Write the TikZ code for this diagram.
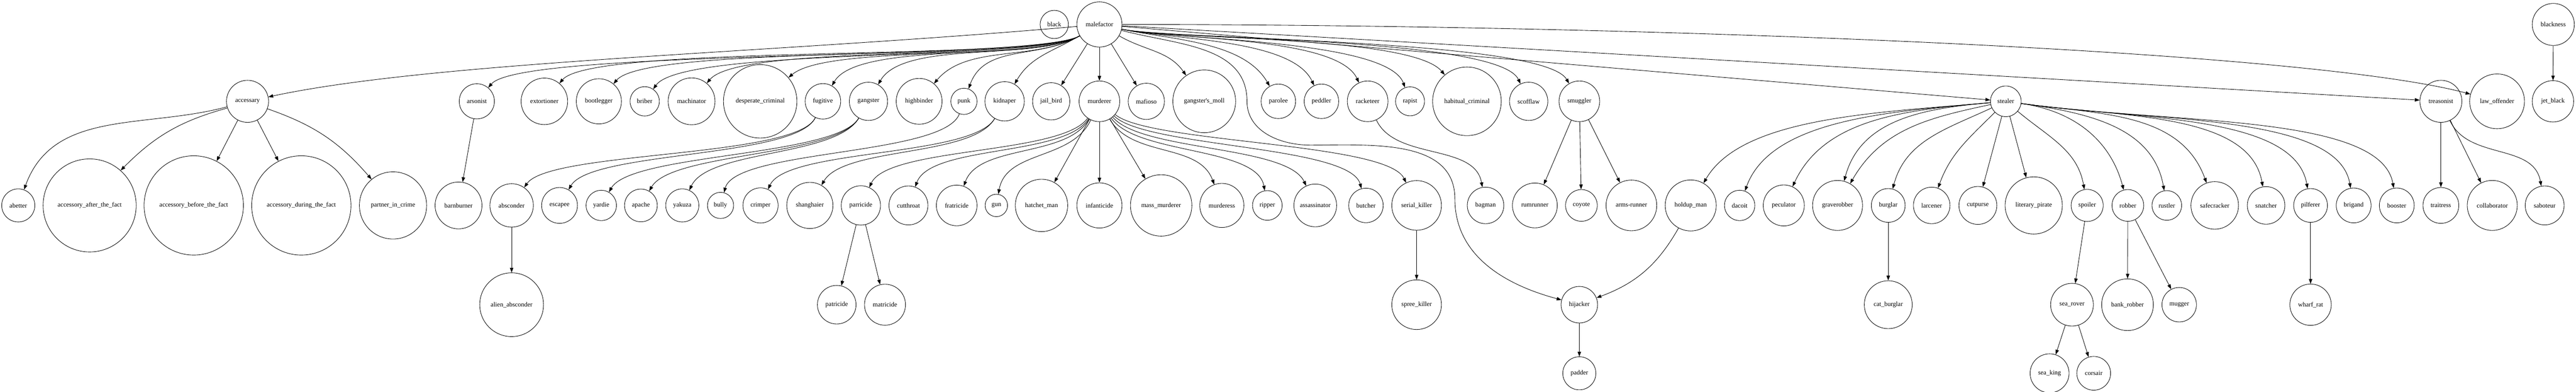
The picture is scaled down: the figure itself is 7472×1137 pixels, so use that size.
\documentclass[tikz,border=0pt]{standalone}
\usepackage{fontspec}
\setmainfont{Liberation Serif}
\usetikzlibrary{arrows.meta}
\begin{document}
\begin{tikzpicture}[x=0.1pt, y=0.1pt]

	\tikzstyle{termino}=[circle, draw, line width=0.13pt, inner sep=0pt, font=\fontsize{1.867}{2.2}\selectfont]
	\tikzstyle{flecha}=[-{Triangle[length=1.4pt, width=1pt]}, line width=0.13pt]
	\tikzstyle{izq}=[out=210, out max distance=15pt, in max distance=15pt]
	\tikzstyle{der}=[out=-12, out max distance=15pt, in max distance=15pt]
	\tikzstyle{tendido}=[out max distance=13pt, in max distance=13pt]
	\tikzstyle{abanico_i}=[out=185, out max distance=50pt, in max distance=22pt]
	\tikzstyle{abanico_d}=[out=-8, out max distance=50pt, in max distance=22pt]

	\useasboundingbox (0, 0) rectangle (7472, 1137);

	\node[termino, minimum size=8.2pt] (black) at (3058, 1066) {black}; % NIVEL 0
	\node[termino, minimum size=13.1pt] (malefactor) at (3189, 1066) {malefactor}; % NIVEL 0
	\node[termino, minimum size=12.2pt] (blackness) at (7406, 1066) {blackness}; % NIVEL 0

	\node[termino, minimum size=12.2pt] (accessary) at (718, 843) {accessary}; % NIVEL 1
	\node[termino, minimum size=10.2pt] (arsonist) at (1383, 843) {arsonist}; % NIVEL 1
	\node[termino, minimum size=13.5pt] (extortioner) at (1579, 843) {extortioner}; % NIVEL 1
	\node[termino, minimum size=13.1pt] (bootlegger) at (1737, 843) {bootlegger}; % NIVEL 1
	\node[termino, minimum size=8.5pt] (briber) at (1870, 843) {briber}; % NIVEL 1
	\node[termino, minimum size=13.6pt] (machinator) at (2006, 843) {machinator}; % NIVEL 1
	\node[termino, minimum size=21.3pt] (desperate) at (2205, 843) {desperate\_criminal}; % NIVEL 1
	\node[termino, minimum size=10.3pt] (fugitive) at (2387, 843) {fugitive}; % NIVEL 1
	\node[termino, minimum size=11.1pt] (gangster) at (2519, 843) {gangster}; % NIVEL 1
	\node[termino, minimum size=13.3pt] (highbinder) at (2666, 843) {highbinder}; % NIVEL 1
	\node[termino, minimum size=7.6pt] (punk) at (2796, 843) {punk}; % NIVEL 1
	\node[termino, minimum size=11.4pt] (kidnaper) at (2914, 843) {kidnaper}; % NIVEL 1
	\node[termino, minimum size=10.8pt] (jail_bird) at (3049, 843) {jail\_bird}; % NIVEL 1
	\node[termino, minimum size=11.8pt] (murderer) at (3189, 843) {murderer}; % NIVEL 1
	\node[termino, minimum size=10.5pt] (mafioso) at (3325, 843) {mafioso}; % NIVEL 1
	\node[termino, minimum size=18.2pt] (moll) at (3493, 843) {gangster\textquotesingle s\_moll}; % NIVEL 1
	\node[termino, minimum size=10pt] (parolee) at (3708, 843) {parolee}; % NIVEL 1
	\node[termino, minimum size=10pt] (peddler) at (3833, 843) {peddler}; % NIVEL 1
	\node[termino, minimum size=11.8pt] (racketeer) at (3967, 843) {racketeer}; % NIVEL 1
	\node[termino, minimum size=8.4pt] (rapist) at (4090, 843) {rapist}; % NIVEL 1
	\node[termino, minimum size=19.9pt] (habitual) at (4255, 843) {habitual\_criminal}; % NIVEL 1
	\node[termino, minimum size=11.1pt] (scofflaw) at (4434, 843) {scofflaw}; % NIVEL 1
	\node[termino, minimum size=11.8pt] (smuggler) at (4581, 843) {smuggler}; % NIVEL 1
	\node[termino, minimum size=8.9pt] (stealer) at (5818, 843) {stealer}; % NIVEL 1
	\node[termino, minimum size=12.2pt] (treasonist) at (7080, 843) {treasonist}; % NIVEL 1
	\node[termino, minimum size=15.9pt] (law_offender) at (7243, 843) {law\_offender}; % NIVEL 1
	\node[termino, minimum size=12pt] (jet_black) at (7405, 843) {jet\_black}; % NIVEL 1

	\node[termino, minimum size=9.6pt] (abetter) at (53, 541) {abetter}; % NIVEL 2
	\node[termino, minimum size=27pt] (after_fact) at (260, 541) {accessory\_after\_the\_fact}; % NIVEL 2
	\node[termino, minimum size=28.8pt] (before_fact) at (562, 541) {accessory\_before\_the\_fact}; % NIVEL 2
	\node[termino, minimum size=28.8pt] (during_fact) at (874, 541) {accessory\_during\_the\_fact}; % NIVEL 2
	\node[termino, minimum size=19.5pt] (partner) at (1140, 541) {partner\_in\_crime}; % NIVEL 2
	\node[termino, minimum size=13.6pt] (barnburner) at (1330, 541) {barnburner}; % NIVEL 2
	\node[termino, minimum size=12.6pt] (absconder) at (1484, 541) {absconder}; % NIVEL 2
	\node[termino, minimum size=10.4pt] (escapee) at (1623, 541) {escapee}; % NIVEL 2
	\node[termino, minimum size=8.8pt] (yardie) at (1744, 541) {yardie}; % NIVEL 2
	\node[termino, minimum size=9.5pt] (apache) at (1859, 541) {apache}; % NIVEL 2
	\node[termino, minimum size=9.6pt] (yakuza) at (1979, 541) {yakuza}; % NIVEL 2
	\node[termino, minimum size=7.6pt] (bully) at (2090, 541) {bully}; % NIVEL 2
	\node[termino, minimum size=10.2pt] (crimper) at (2206, 541) {crimper}; % NIVEL 2
	\node[termino, minimum size=13.4pt] (shanghaier) at (2349, 541) {shanghaier}; % NIVEL 2
	\node[termino, minimum size=11.4pt] (parricide) at (2497, 541) {parricide}; % NIVEL 2
	\node[termino, minimum size=11.3pt] (cutthroat) at (2635, 541) {cutthroat}; % NIVEL 2
	\node[termino, minimum size=11.8pt] (fratricide) at (2775, 541) {fratricide}; % NIVEL 2
	\node[termino, minimum size=6.5pt] (gun) at (2890, 541) {gun}; % NIVEL 2
	\node[termino, minimum size=15.2pt] (hatchet_man) at (3021, 541) {hatchet\_man}; % NIVEL 2
	\node[termino, minimum size=13.1pt] (infanticide) at (3189, 541) {infanticide}; % NIVEL 2
	\node[termino, minimum size=17.8pt] (mass_murderer) at (3368, 541) {mass\_murderer}; % NIVEL 2
	\node[termino, minimum size=12.8pt] (murderess) at (3544, 541) {murderess}; % NIVEL 2
	\node[termino, minimum size=8.6pt] (ripper) at (3676, 541) {ripper}; % NIVEL 2
	\node[termino, minimum size=12.4pt] (assassinator) at (3815, 541) {assassinator}; % NIVEL 2
	\node[termino, minimum size=10pt] (butcher) at (3962, 541) {butcher}; % NIVEL 2
	\node[termino, minimum size=14.4pt] (serial_killer) at (4109, 541) {serial\_killer}; % NIVEL 2
	\node[termino, minimum size=10.6pt] (bagman) at (4309, 541) {bagman}; % NIVEL 2
	\node[termino, minimum size=13pt] (rumrunner) at (4452, 541) {rumrunner}; % NIVEL 2
	\node[termino, minimum size=9.2pt] (coyote) at (4587, 541) {coyote}; % NIVEL 2
	\node[termino, minimum size=14.7pt] (arms_runner) at (4732, 541) {arms-runner}; % NIVEL 2
	\node[termino, minimum size=14.8pt] (holdup_man) at (4904, 541) {holdup\_man}; % NIVEL 2
	\node[termino, minimum size=8.8pt] (dacoit) at (5046, 541) {dacoit}; % NIVEL 2
	\node[termino, minimum size=11.9pt] (peculator) at (5174, 541) {peculator}; % NIVEL 2
	\node[termino, minimum size=14.5pt] (graverobber) at (5330, 541) {graverobber}; % NIVEL 2
	\node[termino, minimum size=9.8pt] (burglar) at (5477, 541) {burglar}; % NIVEL 2
	\node[termino, minimum size=10.6pt] (larcener) at (5603, 541) {larcener}; % NIVEL 2
	\node[termino, minimum size=11pt] (cutpurse) at (5737, 541) {cutpurse}; % NIVEL 2
	\node[termino, minimum size=16.6pt] (literary_pirate) at (5899, 541) {literary\_pirate}; % NIVEL 2
	\node[termino, minimum size=9.3pt] (spoiler) at (6054, 541) {spoiler}; % NIVEL 2
	\node[termino, minimum size=9.2pt] (robber) at (6172, 541) {robber}; % NIVEL 2
	\node[termino, minimum size=8.6pt] (rustler) at (6285, 541) {rustler}; % NIVEL 2
	\node[termino, minimum size=13.8pt] (safecracker) at (6424, 541) {safecracker}; % NIVEL 2
	\node[termino, minimum size=10.9pt] (snatcher) at (6573, 541) {snatcher}; % NIVEL 2
	\node[termino, minimum size=9.8pt] (pilferer) at (6702, 541) {pilferer}; % NIVEL 2
	\node[termino, minimum size=10.1pt] (brigand) at (6827, 541) {brigand}; % NIVEL 2
	\node[termino, minimum size=10.1pt] (booster) at (6952, 541) {booster}; % NIVEL 2
	\node[termino, minimum size=10.4pt] (traitress) at (7080, 541) {traitress}; % NIVEL 2
	\node[termino, minimum size=14.5pt] (collaborator) at (7229, 541) {collaborator}; % NIVEL 2
	\node[termino, minimum size=11.3pt] (saboteur) at (7381, 541) {saboteur}; % NIVEL 2

	\node[termino, minimum size=18.5pt] (alien_absconder) at (1484, 253) {alien\_absconder}; % NIVEL 3
	\node[termino, minimum size=11.2pt] (patricide) at (2427, 253) {patricide}; % NIVEL 3
	\node[termino, minimum size=11.9pt] (matricide) at (2567, 253) {matricide}; % NIVEL 3
	\node[termino, minimum size=14.4pt] (spree_killer) at (4109, 253) {spree\_killer}; % NIVEL 3
	\node[termino, minimum size=10.6pt] (hijacker) at (4581, 253) {hijacker}; % NIVEL 3
	\node[termino, minimum size=13.9pt] (cat_burglar) at (5477, 253) {cat\_burglar}; % NIVEL 3
	\node[termino, minimum size=12.4pt] (sea_rover) at (6010, 253) {sea\_rover}; % NIVEL 3
	\node[termino, minimum size=15pt] (bank_robber) at (6171, 253) {bank\_robber}; % NIVEL 3
	\node[termino, minimum size=10pt] (mugger) at (6321, 253) {mugger}; % NIVEL 3
	\node[termino, minimum size=12pt] (wharf_rat) at (6702, 253) {wharf\_rat}; % NIVEL 3

	\node[termino, minimum size=9.6pt] (padder) at (4581, 54) {padder}; % NIVEL 4
	\node[termino, minimum size=11.3pt] (sea_king) at (5945, 54) {sea\_king}; % NIVEL 4
	\node[termino, minimum size=9.8pt] (corsair) at (6073, 54) {corsair}; % NIVEL 4

	\coordinate (paso_1) at (3617, 843);
	\coordinate (paso_2) at (3800, 716);
	\coordinate (paso_3) at (4220, 560);

	%%%%%%%%%%%%%%%%%%%%%%%%%%%%%%%%%
	%%%%%%% MALEFACTOR %%%%%%%%
	\draw[flecha] (malefactor) to[out=185, in=12, out max distance=90pt, in max distance=50pt] (accessary);
	\draw[flecha] (malefactor) to[izq, in=50] (arsonist);
	\draw[flecha] (malefactor) to[izq, in=50] (extortioner);
	\draw[flecha] (malefactor) to[izq, in=50] (bootlegger);
	\draw[flecha] (malefactor) to[izq, in=55] (briber);
	\draw[flecha] (malefactor) to[izq, in=50] (machinator);
	\draw[flecha] (malefactor) to[izq, in=40] (desperate);
	\draw[flecha] (malefactor) to[izq, in=60] (fugitive);
	\draw[flecha] (malefactor) to[izq, in=60] (gangster);
	\draw[flecha] (malefactor) to[izq, in=50] (highbinder);
	\draw[flecha] (malefactor) to[izq, in=70] (punk);
	\draw[flecha] (malefactor) to[izq, in=60] (kidnaper);
	\draw[flecha] (malefactor) -- (jail_bird);
	\draw[flecha] (malefactor) -- (murderer);
	\draw[flecha] (malefactor) -- (mafioso);
	\draw[flecha] (malefactor) to[der, out=-30, in=125] (moll);
	\draw[flecha] (malefactor) to[der, in=120] (parolee);
	\draw[flecha] (malefactor) to[der, in=115] (peddler);
	\draw[flecha] (malefactor) to[der, in=115] (racketeer);
	\draw[flecha] (malefactor) to[der, in=110] (rapist);
	\draw[flecha] (malefactor) to[der, in=130] (habitual);
	\draw[flecha] (malefactor) to[der, in=115] (scofflaw);
	\draw[flecha] (malefactor) to[der, in=120] (smuggler);
	\draw[flecha] (malefactor) -- (stealer);
	\draw[flecha] (malefactor) -- (treasonist);
	\draw[flecha] (malefactor) to[out=0, in=165, out max distance=150pt, in max distance=50pt] (law_offender);
	\draw[flecha] (malefactor) to[out=-15, in=90] (paso_1) to[out=-90, in=180] (paso_2) to[out=0, in=90] (paso_3) to[out=-90, in=165] (hijacker);
	%%%%%%%%%%%%%%%%%%%%%%%%%%%%%%%%%

	%%%%%%%%%%%%%%%%%%%%%%%%%%%%%%%%%
	%%%%%%% NIVEL 1 -> NIVEL 2 %%%%%%%%
	\draw[flecha] (accessary) to[out=195, in=70] (abetter);
	\draw[flecha] (accessary) to[bend right=15] (after_fact);
	\draw[flecha] (accessary) -- (before_fact);
	\draw[flecha] (accessary) -- (during_fact);
	\draw[flecha] (accessary) to[bend left=15] (partner);
	\draw[flecha] (arsonist) -- (barnburner);

	\draw[flecha] (fugitive) to[tendido, out=245, in=55] (absconder);
	\draw[flecha] (fugitive) to[tendido, out=245, in=60] (escapee);
	\draw[flecha] (gangster) to[tendido, out=240, in=60] (yardie);
	\draw[flecha] (gangster) to[tendido, out=240, in=60] (apache);
	\draw[flecha] (gangster) to[tendido, out=240, in=65] (yakuza);
	\draw[flecha] (punk) to[tendido, out=250, in=75] (bully);
	\draw[flecha] (kidnaper) to[tendido, out=240, in=65] (crimper);
	\draw[flecha] (kidnaper) to[tendido, out=240, in=60] (shanghaier);

	\draw[flecha] (murderer) to[tendido, out=235, in=65] (parricide);
	\draw[flecha] (murderer) to[tendido, out=238, in=70] (cutthroat);
	\draw[flecha] (murderer) to[tendido, out=240, in=70] (fratricide);
	\draw[flecha] (murderer) to[tendido, out=245, in=80] (gun);
	\draw[flecha] (murderer) -- (hatchet_man);
	\draw[flecha] (murderer) -- (infanticide);
	\draw[flecha] (murderer) -- (mass_murderer);
	\draw[flecha] (murderer) to[tendido, out=-60, in=110] (murderess);
	\draw[flecha] (murderer) to[tendido, out=-55, in=100] (ripper);
	\draw[flecha] (murderer) to[tendido, out=-50, in=115] (assassinator);
	\draw[flecha] (murderer) to[tendido, out=-45, in=105] (butcher);
	\draw[flecha] (murderer) to[tendido, out=-40, in=115] (serial_killer);

	\draw[flecha] (racketeer) to[tendido, out=-65, in=100] (bagman);
	\draw[flecha] (smuggler) -- (rumrunner);
	\draw[flecha] (smuggler) -- (coyote);
	\draw[flecha] (smuggler) -- (arms_runner);

	\draw[flecha] (stealer) to[abanico_i, in=60] (holdup_man);
	\draw[flecha] (stealer) to[abanico_i, in=70] (dacoit);
	\draw[flecha] (stealer) to[abanico_i, in=65] (peculator);
	\draw[flecha] (stealer) to[abanico_i, in=75] (graverobber);
	\draw[flecha] (stealer) to[abanico_i, out=192, in=60] (graverobber);
	\draw[flecha] (stealer) to[out=205, in=75] (burglar);
	\draw[flecha] (stealer) to[out=225, in=70] (larcener);
	\draw[flecha] (stealer) -- (cutpurse);
	\draw[flecha] (stealer) -- (literary_pirate);
	\draw[flecha] (stealer) to[out=-40, in=100] (spoiler);
	\draw[flecha] (stealer) to[abanico_d, in=105] (robber);
	\draw[flecha] (stealer) to[abanico_d, in=100] (rustler);
	\draw[flecha] (stealer) to[abanico_d, in=110] (safecracker);
	\draw[flecha] (stealer) to[abanico_d, in=100] (snatcher);
	\draw[flecha] (stealer) to[abanico_d, in=100] (pilferer);
	\draw[flecha] (stealer) to[abanico_d, in=100] (brigand);
	\draw[flecha] (stealer) to[abanico_d, in=100] (booster);

	\draw[flecha] (treasonist) -- (traitress);
	\draw[flecha] (treasonist) -- (collaborator);
	\draw[flecha] (treasonist) to[out=-65, in=100] (saboteur);
	\draw[flecha] (blackness) -- (jet_black);
	%%%%%%%%%%%%%%%%%%%%%%%%%%%%%%%%%

	%%%%%%%%%%%%%%%%%%%%%%%%%%%%%%%%%
	%%%%%%% NIVEL 2 -> NIVEL 4 %%%%%%%%
	\draw[flecha] (absconder) -- (alien_absconder);
	\draw[flecha] (parricide) -- (patricide);
	\draw[flecha] (parricide) -- (matricide);
	\draw[flecha] (serial_killer) -- (spree_killer);
	\draw[flecha] (holdup_man) to[bend left=20] (hijacker);
	\draw[flecha] (burglar) -- (cat_burglar);
	\draw[flecha] (spoiler) -- (sea_rover);
	\draw[flecha] (robber) -- (bank_robber);
	\draw[flecha] (robber) -- (mugger);
	\draw[flecha] (pilferer) -- (wharf_rat);

	\draw[flecha] (hijacker) -- (padder);
	\draw[flecha] (sea_rover) -- (sea_king);
	\draw[flecha] (sea_rover) -- (corsair);
	%%%%%%%%%%%%%%%%%%%%%%%%%%%%%%%%%
\end{tikzpicture}
\end{document}
